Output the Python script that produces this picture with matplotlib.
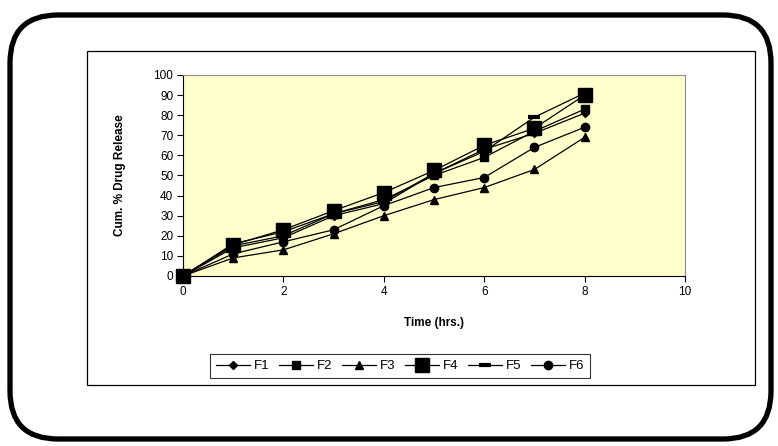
import matplotlib
matplotlib.use("Agg")
import matplotlib.pyplot as plt
from matplotlib.patches import FancyBboxPatch, Rectangle
from matplotlib.transforms import IdentityTransform

plt.rcParams['font.family'] = ['Liberation Sans', 'DejaVu Sans']

# Cumulative drug release data (%) over time (hrs)
time_hrs = [0, 1, 2, 3, 4, 5, 6, 7, 8]
F1 = [0, 14, 19, 30, 36, 51, 63, 71, 81]
F2 = [0, 15, 20, 31, 38, 50, 59, 72, 83]
F3 = [0, 9, 13, 21, 30, 38, 44, 53, 69]
F4 = [0, 15.5, 23, 32.5, 41.5, 52.5, 65, 73.5, 90]
F5 = [0, 16, 22, 31, 37, 51, 62, 79, 91]
F6 = [0, 11, 17, 23, 35, 44, 49, 64, 74]
series_names = ["F1", "F2", "F3", "F4", "F5", "F6"]
x_ticks = [0, 2, 4, 6, 8, 10]
y_ticks = [0, 10, 20, 30, 40, 50, 60, 70, 80, 90, 100]

W, H = 778, 446
fig = plt.figure(figsize=(W / 100, H / 100), dpi=100)
fig.patch.set_facecolor("white")

# Outer rounded frame (pixel coordinates, origin bottom-left)
frame = FancyBboxPatch((10, H - 439), 761, 424,
                       boxstyle="round,pad=0,rounding_size=48",
                       transform=IdentityTransform(), fill=False,
                       edgecolor="black", linewidth=3.8, zorder=0)
fig.patches.append(frame)

# Inner chart border
inner = Rectangle((87, H - 385), 668, 334, transform=IdentityTransform(),
                  fill=False, edgecolor="black", linewidth=0.9, zorder=0)
fig.patches.append(inner)

ax = fig.add_axes([183 / W, (H - 276) / H, 502 / W, 201 / H])
ax.set_facecolor("#FFFFCC")

styles = {
    "F1": dict(marker="D", markersize=3.8),
    "F2": dict(marker="s", markersize=5.5),
    "F3": dict(marker="^", markersize=6),
    "F4": dict(marker="s", markersize=10),
    "F5": dict(marker="_", markersize=9, markeredgewidth=3),
    "F6": dict(marker="o", markersize=6),
}
data = {"F1": F1, "F2": F2, "F3": F3, "F4": F4, "F5": F5, "F6": F6}
for name in series_names:
    ax.plot(time_hrs, data[name], color="black", linewidth=0.9,
            markerfacecolor="black", markeredgecolor="black",
            label=name, clip_on=False, **styles[name])

ax.set_xlim(0, 10)
ax.set_ylim(0, 100)
ax.set_xticks(x_ticks)
ax.set_yticks(y_ticks)
ax.tick_params(direction="out", length=4, width=0.8, labelsize=8.5,
               colors="black", pad=3)
for side in ("top", "right"):
    ax.spines[side].set_color("#8a8a8a")
    ax.spines[side].set_linewidth(0.8)
for side in ("left", "bottom"):
    ax.spines[side].set_color("black")
    ax.spines[side].set_linewidth(0.8)

ax.set_xlabel("Time (hrs.)", fontsize=8.5, fontweight="bold", labelpad=14)
ax.set_ylabel("Cum. % Drug Release", fontsize=8.5, fontweight="bold", labelpad=20)

leg = fig.legend(loc="center", bbox_to_anchor=(400 / W, (H - 366) / H),
                 ncol=6, frameon=True, fancybox=False, fontsize=9.5,
                 handlelength=2.6, handletextpad=0.3, columnspacing=0.7,
                 borderpad=0.45)
leg.get_frame().set_edgecolor("black")
leg.get_frame().set_linewidth(0.8)

fig.savefig("out.png", dpi=100)
